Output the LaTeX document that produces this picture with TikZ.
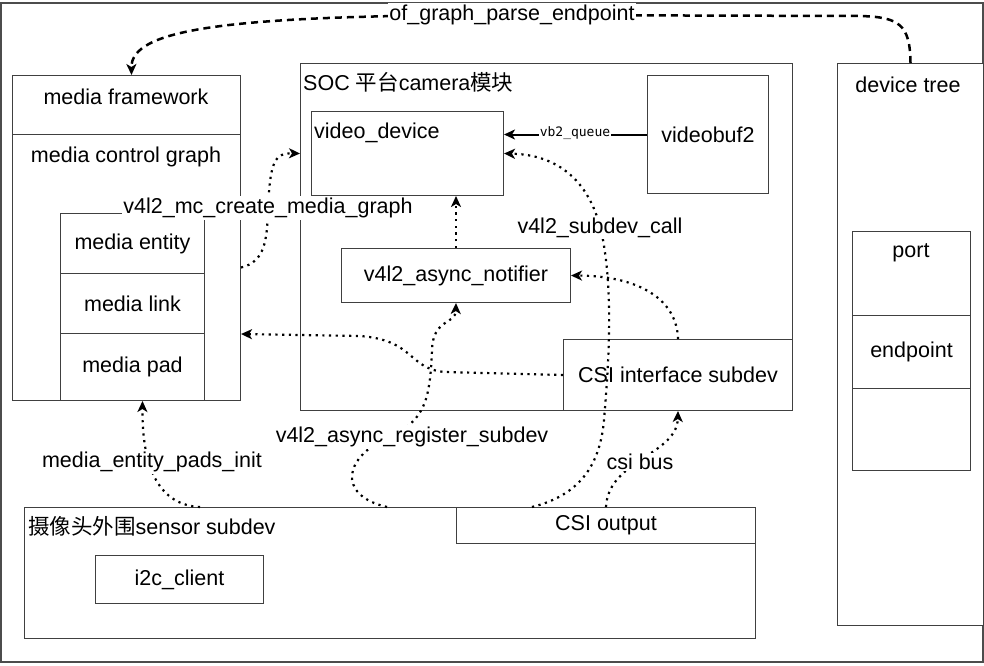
\documentclass[tikz,border=0pt]{standalone}
\usepackage{fontspec}
\setmainfont{Liberation Sans}
\newfontfamily\cjk{Noto Sans CJK SC}
\newfontfamily\monof{DejaVu Sans Mono}
\usetikzlibrary{arrows.meta}
\begin{document}
\begin{tikzpicture}[x=1pt,y=-1pt,
  font=\fontsize{21.5}{26}\selectfont,
  box/.style={draw=black!75, line width=1pt, fill=white, inner sep=0pt, anchor=north west},
  txt/.style={inner sep=0pt},
  lbl/.style={fill=white, inner sep=1.5pt},
  tip/.style={-{Stealth[length=11pt,width=10pt,inset=3pt]}},
  dotconn/.style={tip, line width=2.2pt, dash pattern=on 2.2pt off 4.5pt},
  dashconn/.style={tip, line width=2.5pt, dash pattern=on 7pt off 5pt},
  solidconn/.style={tip, line width=2pt}]
\useasboundingbox (0,0) rectangle (984,665);
\draw[draw=black!70, line width=1.2pt] (1,3) rectangle (983,662);
% media framework
\node[box, minimum width=228pt, minimum height=59pt] (mf) at (12,75) {};
\node[txt] (mft) at (126,97) {media framework};
\node[box, minimum width=228pt, minimum height=266pt] (mcg) at (12,134) {};
\node[txt] (mcgt) at (126,157) {media control graph};
\node[box, minimum width=144pt, minimum height=60pt] (ent) at (60,213) {media entity};
\node[box, minimum width=144pt, minimum height=60pt] (lnk) at (60,273) {media link};
\node[box, minimum width=144pt, minimum height=67pt] (pad) at (60,333) {media pad};
% SOC
\node[box, minimum width=492pt, minimum height=347pt] (soc) at (300,63) {};
\node[txt, anchor=west] (soct) at (303,82) {SOC {\cjk 平台}camera{\cjk 模块}};
\node[box, minimum width=192pt, minimum height=84pt] (vd) at (311,111) {};
\node[txt, anchor=west] (vdt) at (314,133) {video\_device};
\node[box, minimum width=121pt, minimum height=118pt] (vb) at (647,75) {videobuf2};
\node[box, minimum width=229pt, minimum height=54pt] (an) at (341,248) {v4l2\_async\_notifier};
\node[box, minimum width=229pt, minimum height=71pt] (csi) at (563,339) {CSI interface subdev};
% device tree
\node[box, minimum width=146pt, minimum height=562pt] (dt) at (837,63) {};
\node[txt] (dtt) at (908,85) {device tree};
\node[box, minimum width=118pt, minimum height=84pt] (port) at (852,231) {};
\node[txt] (portt) at (911,253) {port};
\node[box, minimum width=118pt, minimum height=73pt] (ep) at (852,315) {endpoint};
\node[box, minimum width=118pt, minimum height=82pt] (ep2) at (852,388) {};
% sensor
\node[box, minimum width=731pt, minimum height=131pt] (sen) at (24,507) {};
\node[txt, anchor=west] (sent) at (28,526) {{\cjk 摄像头外围}sensor subdev};
\node[box, minimum width=299pt, minimum height=36pt] (csio) at (456,507) {CSI output};
\node[box, minimum width=168pt, minimum height=48pt] (i2c) at (95,555) {i2c\_client};
% connectors
\draw[dashconn] (dt.north) .. controls (910,25) and (900,17) .. (860,16)
  -- (512,15) .. controls (220,15) and (131,30) .. ([xshift=5pt]mf.north);
\draw[dotconn] (mcg.east) .. controls (265,262) and (267,240) .. (268,210)
  .. controls (270,160) and (275,153) .. (soc.west |- vd.west);
\draw[dotconn] (an.north) -- (an.north |- vd.south);
\draw[solidconn] (vb.west) -- (vd.east |- vb.west);
\draw[dotconn] ([xshift=76pt]csio.north west) .. controls (580,495) and (600,465) .. (604,420)
  .. controls (610,350) and (612,290) .. (603,240)
  .. controls (595,195) and (570,155) .. (vd.east);
\draw[dotconn] (csi.north) .. controls (677,300) and (640,276) .. (an.east);
\draw[dotconn] (csi.west) -- (445,372) .. controls (408,369) and (415,340) .. (360,336)
  -- (mcg.east |- lnk.south);
\draw[dotconn] ([xshift=363pt]sen.north west) .. controls (335,495) and (345,455) .. (390,437)
  .. controls (425,420) and (430,400) .. (432,350)
  .. controls (433,318) and (455.5,325) .. (an.south);
\draw[dotconn] ([xshift=176pt]sen.north west) .. controls (160,505) and (142,470) .. ([xshift=16pt]mcg.south);
\draw[dotconn] (csio.north) .. controls (608,460) and (677,455) .. (csi.south);
% labels
\node[lbl] (l1) at (512,15) {of\_graph\_parse\_endpoint};
\node[lbl] (l2) at (268,208) {v4l2\_mc\_create\_media\_graph};
\node[lbl, inner sep=0.5pt] (l3) at (575,133) {\monof\fontsize{13}{15}\selectfont vb2\_queue};
\node[lbl] (l4) at (600,228) {v4l2\_subdev\_call};
\node[lbl] (l5) at (412,437) {v4l2\_async\_register\_subdev};
\node[lbl] (l6) at (152,462) {media\_entity\_pads\_init};
\node[lbl] (l7) at (640,462) {csi bus};
\end{tikzpicture}
\end{document}
